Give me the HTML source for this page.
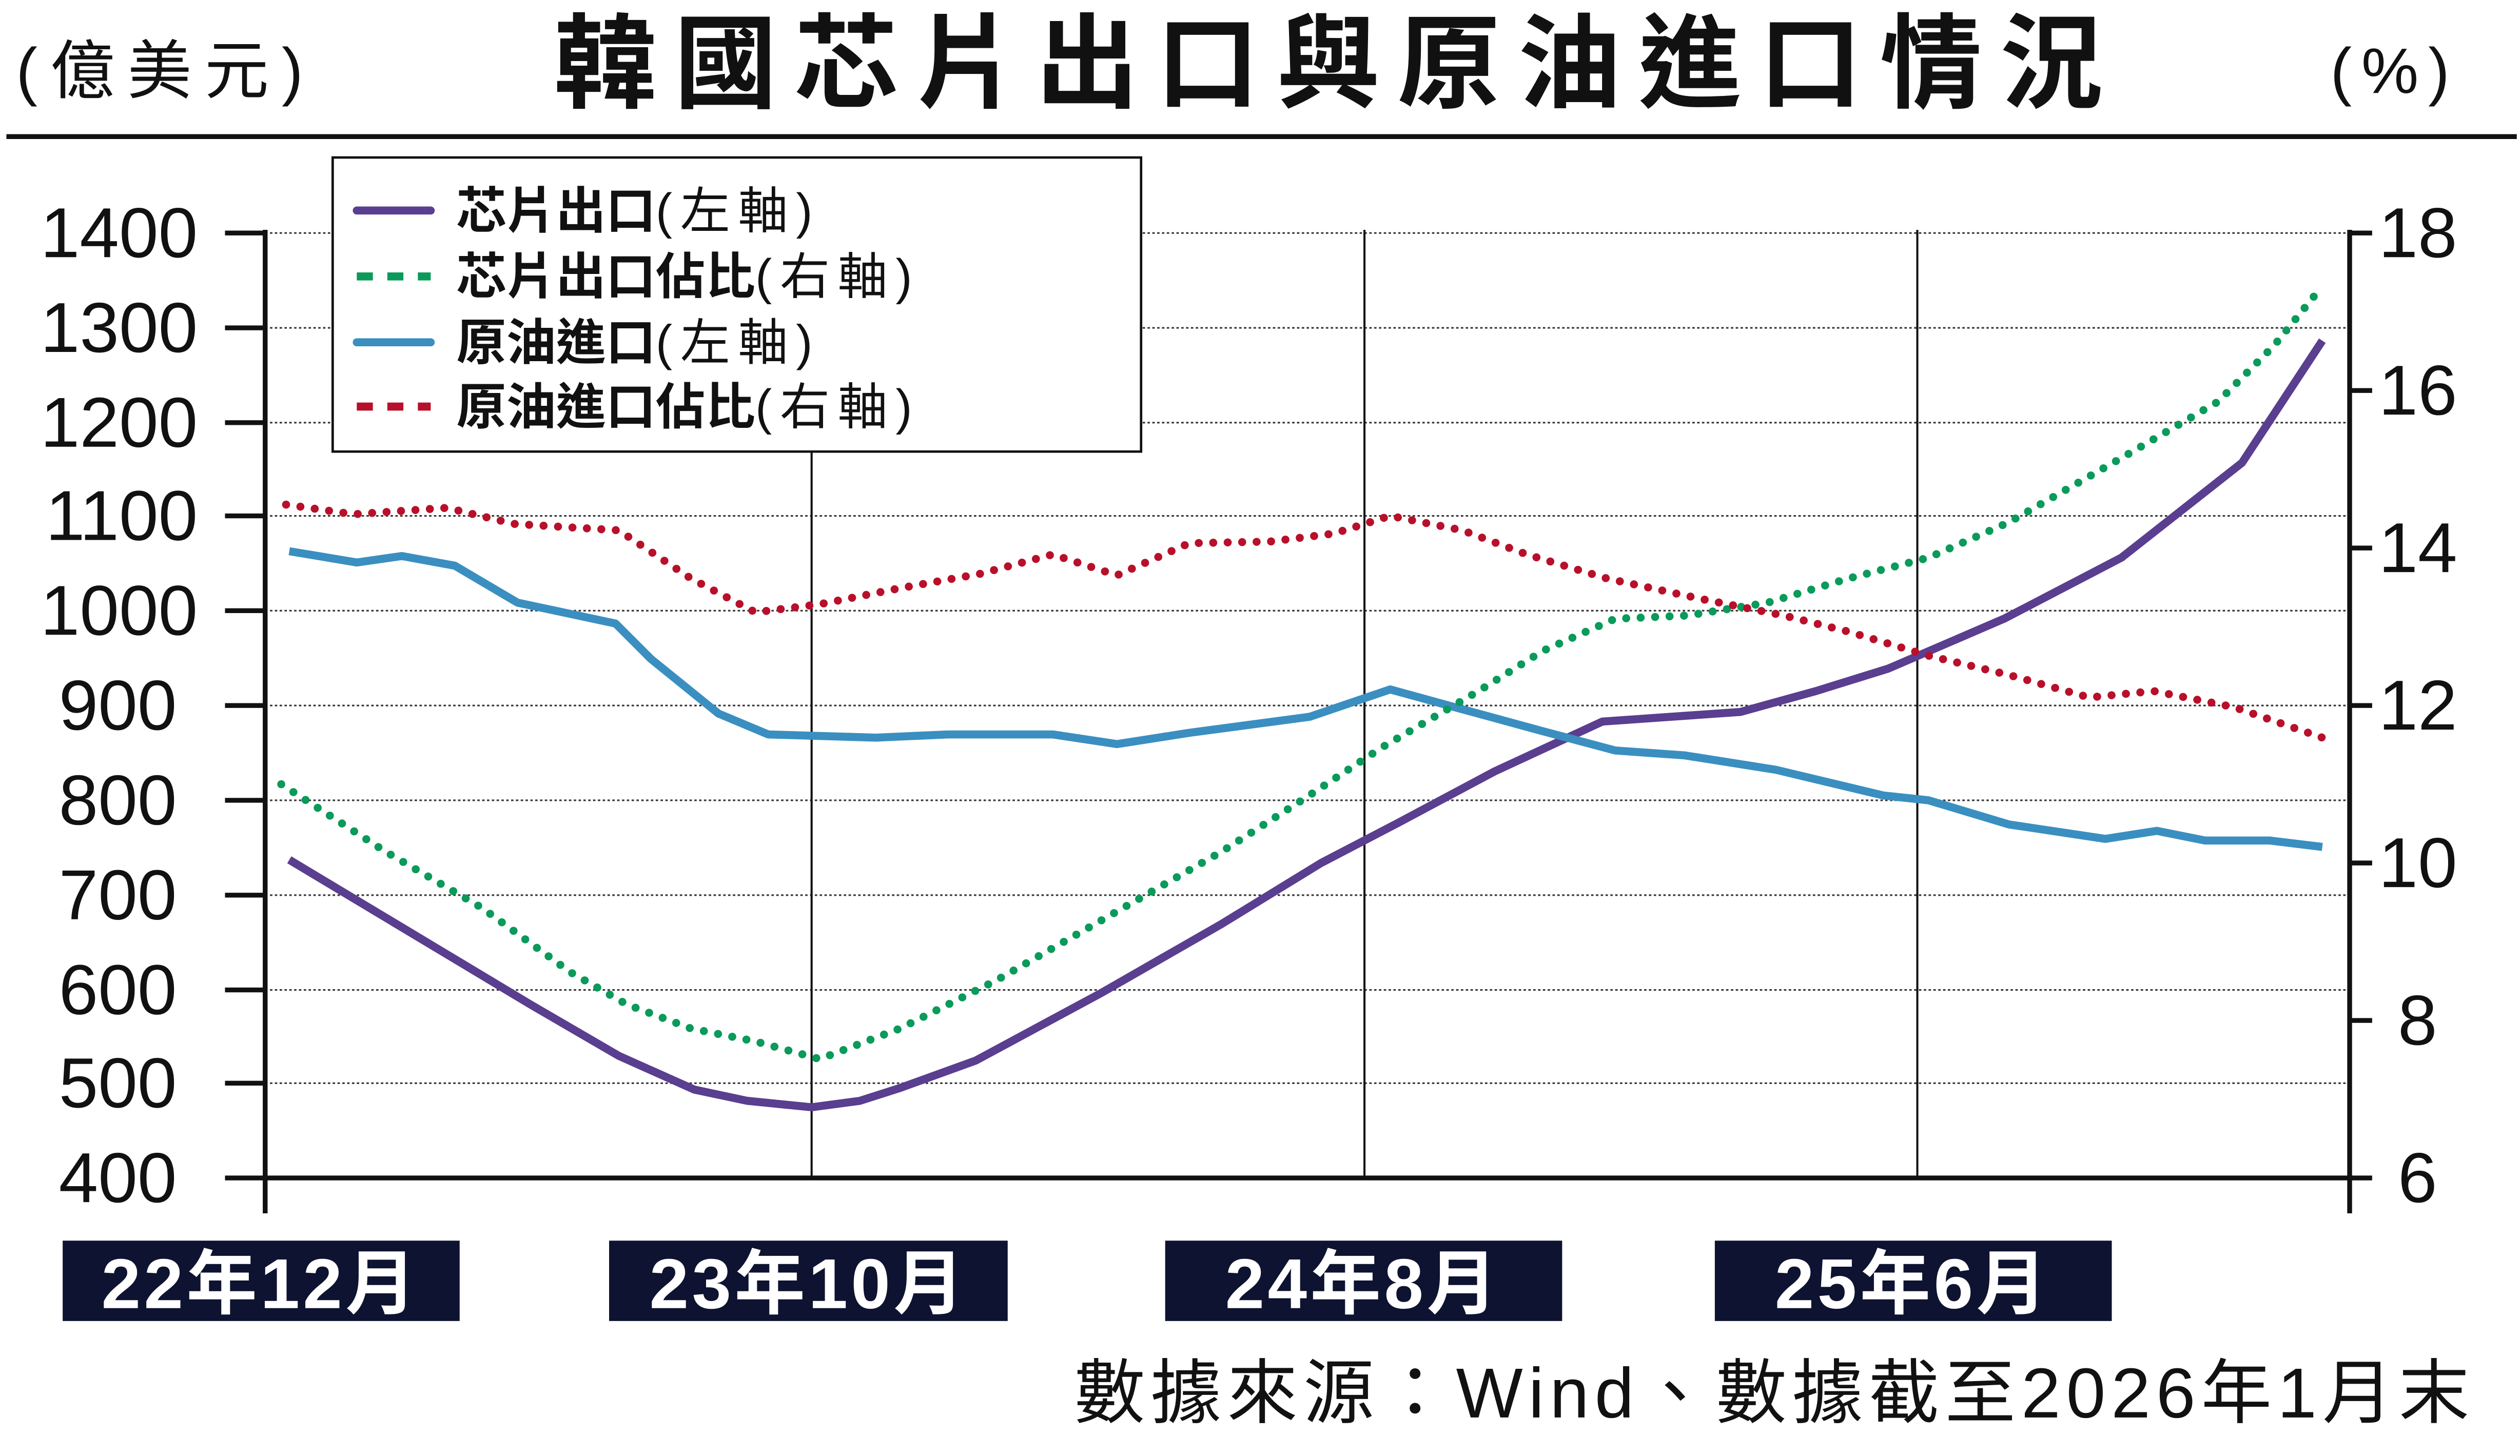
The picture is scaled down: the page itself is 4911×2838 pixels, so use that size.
<!DOCTYPE html>
<html><head><meta charset="utf-8"><style>
html,body{margin:0;padding:0;background:#fff;}
svg{display:block;}
text{font-family:"Liberation Sans","Noto Sans CJK TC",sans-serif;}
</style></head><body>
<svg width="4911" height="2838" viewBox="0 0 1568 906" preserveAspectRatio="none" xmlns="http://www.w3.org/2000/svg">
<rect width="1568" height="906" fill="#fff"/>
<text x="10" y="58" font-size="40" fill="#111" letter-spacing="8">(億美元)</text>
<text x="832" y="62" font-size="64" font-weight="bold" text-anchor="middle" fill="#111" letter-spacing="11">韓國芯片出口與原油進口情況</text>
<text x="1450" y="58" font-size="40" fill="#111" letter-spacing="6">(%)</text>
<line x1="4" y1="85" x2="1566" y2="85" stroke="#111" stroke-width="3"/>
<g stroke="#333" stroke-width="1" stroke-dasharray="1.5 1.5">
<line x1="165" y1="145" x2="1462" y2="145"/><line x1="165" y1="204" x2="1462" y2="204"/>
<line x1="165" y1="263" x2="1462" y2="263"/><line x1="165" y1="321" x2="1462" y2="321"/>
<line x1="165" y1="380" x2="1462" y2="380"/><line x1="165" y1="439" x2="1462" y2="439"/>
<line x1="165" y1="498" x2="1462" y2="498"/><line x1="165" y1="557" x2="1462" y2="557"/>
<line x1="165" y1="616" x2="1462" y2="616"/><line x1="165" y1="674" x2="1462" y2="674"/>
</g>
<g stroke="#111" stroke-width="1.3">
<line x1="505" y1="143" x2="505" y2="733"/><line x1="849" y1="143" x2="849" y2="733"/><line x1="1193" y1="143" x2="1193" y2="733"/>
</g>
<g stroke="#111" stroke-width="3">
<line x1="165" y1="143" x2="165" y2="755"/><line x1="1462" y1="143" x2="1462" y2="755"/>
<line x1="163" y1="733" x2="1464" y2="733"/>
<line x1="140" y1="145" x2="165" y2="145"/><line x1="140" y1="204" x2="165" y2="204"/><line x1="140" y1="263" x2="165" y2="263"/><line x1="140" y1="321" x2="165" y2="321"/><line x1="140" y1="380" x2="165" y2="380"/><line x1="140" y1="439" x2="165" y2="439"/><line x1="140" y1="498" x2="165" y2="498"/><line x1="140" y1="557" x2="165" y2="557"/><line x1="140" y1="616" x2="165" y2="616"/><line x1="140" y1="674" x2="165" y2="674"/><line x1="140" y1="733" x2="165" y2="733"/>
<line x1="1462" y1="145" x2="1476" y2="145"/><line x1="1462" y1="243" x2="1476" y2="243"/><line x1="1462" y1="341" x2="1476" y2="341"/><line x1="1462" y1="439" x2="1476" y2="439"/><line x1="1462" y1="537" x2="1476" y2="537"/><line x1="1462" y1="635" x2="1476" y2="635"/><line x1="1462" y1="733" x2="1476" y2="733"/>
</g>
<g font-size="44" fill="#111" text-anchor="end">
<text x="123" y="160">1400</text><text x="123" y="219">1300</text><text x="123" y="278">1200</text><text x="123" y="336">1100</text><text x="123" y="395">1000</text><text x="110" y="454">900</text><text x="110" y="513">800</text><text x="110" y="572">700</text><text x="110" y="631">600</text><text x="110" y="689">500</text><text x="110" y="748">400</text>
</g>
<g font-size="44" fill="#111">
<text x="1480" y="160">18</text><text x="1480" y="258">16</text><text x="1480" y="356">14</text><text x="1480" y="454">12</text><text x="1480" y="552">10</text><text x="1492" y="650">8</text><text x="1492" y="748">6</text>
</g>
<g fill="none" stroke-width="5" stroke-linejoin="round">
<polyline stroke="#5a3e8f" points="180,535 230,565 280,595 330,625 385,657 432,678 465,685 505,689 535,685 560,677 607,660 685,618 760,575 822,537 870,512 930,480 997,449 1040,446 1083,443 1130,430 1175,416 1247,385 1320,347 1395,288 1445,212"/>
<polyline stroke="#3a8fc0" points="180,343 222,350 250,346 283,352 322,375 383,388 405,410 447,444 478,457 545,459 590,457 655,457 695,463 740,456 815,446 865,429 905,440 960,455 1005,467 1048,470 1105,479 1172,495 1200,498 1250,513 1310,522 1342,517 1372,523 1412,523 1445,527"/>
<polyline stroke="#0a9a5a" stroke-linecap="round" stroke-dasharray="0 9" points="175,488 240,530 300,565 355,605 390,625 430,640 470,648 510,659 560,640 620,610 690,570 760,530 810,498 860,465 920,430 960,405 1005,385 1050,383 1100,375 1150,360 1200,347 1250,325 1320,285 1380,250 1415,215 1445,178"/>
<polyline stroke="#b8102a" stroke-linecap="round" stroke-dasharray="0 9" points="178,314 220,320 278,316 320,326 385,330 430,360 470,381 510,376 560,366 610,357 655,345 695,358 740,338 790,337 830,332 865,321 910,330 950,345 1000,360 1060,373 1110,383 1150,393 1200,408 1250,420 1300,434 1340,430 1390,440 1445,459"/>
</g>
<rect x="207" y="98" width="503" height="183" fill="#fff" stroke="#111" stroke-width="1.5"/>
<g stroke-width="5" stroke-linecap="round">
<line x1="222" y1="131" x2="268" y2="131" stroke="#5a3e8f"/>
<line x1="222" y1="172" x2="268" y2="172" stroke="#0a9a5a" stroke-dasharray="10 9" stroke-linecap="butt"/>
<line x1="222" y1="213" x2="268" y2="213" stroke="#3a8fc0"/>
<line x1="222" y1="253" x2="268" y2="253" stroke="#b8102a" stroke-dasharray="10 9" stroke-linecap="butt"/>
</g>
<g font-size="31" fill="#111">
<text x="284" y="142"><tspan font-weight="bold">芯片出口</tspan><tspan letter-spacing="5">(左軸)</tspan></text>
<text x="284" y="183"><tspan font-weight="bold">芯片出口佔比</tspan><tspan letter-spacing="5">(右軸)</tspan></text>
<text x="284" y="224"><tspan font-weight="bold">原油進口</tspan><tspan letter-spacing="5">(左軸)</tspan></text>
<text x="284" y="264"><tspan font-weight="bold">原油進口佔比</tspan><tspan letter-spacing="5">(右軸)</tspan></text>
</g>
<g fill="#0d1330">
<rect x="39" y="772" width="247" height="50"/><rect x="379" y="772" width="248" height="50"/><rect x="725" y="772" width="247" height="50"/><rect x="1067" y="772" width="247" height="50"/>
</g>
<g font-size="44" font-weight="bold" fill="#fff" text-anchor="middle" letter-spacing="2">
<text x="162" y="814">22年12月</text><text x="503" y="814">23年10月</text><text x="848" y="814">24年8月</text><text x="1190" y="814">25年6月</text>
</g>
<text x="1540" y="882" font-size="44" fill="#111" text-anchor="end" letter-spacing="3.5">數據來源：Wind、數據截至2026年1月末</text>
</svg>
</body></html>
